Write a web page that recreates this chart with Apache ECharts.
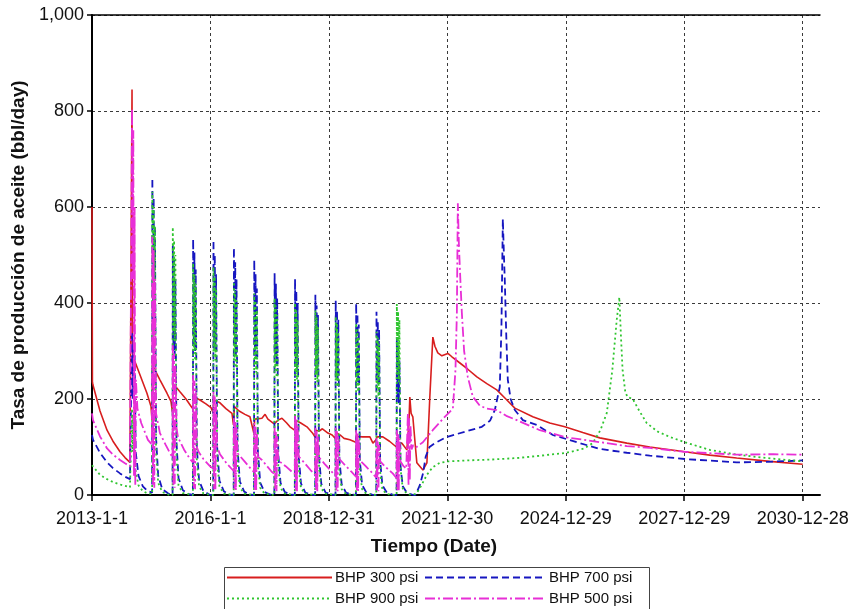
<!DOCTYPE html>
<html>
<head>
<meta charset="utf-8">
<script src="https://cdn.jsdelivr.net/npm/echarts@6/dist/echarts.min.js"></script>
<style>
  html, body { margin: 0; padding: 0; background: #fff; }
  #chart { width: 854px; height: 609px; }
</style>
</head>
<body>
<div id="chart"></div>
<script>
// x values are days elapsed since 2013-01-01, y values are oil rate in bbl/day
const tickLabels = ['2013-1-1', '2016-1-1', '2018-12-31', '2021-12-30', '2024-12-29', '2027-12-29', '2030-12-28'];
const tickStepDays = 1095;
const seriesNames = ['BHP 300 psi', 'BHP 700 psi', 'BHP 900 psi', 'BHP 500 psi'];

const bhp300 = [
  [0,600],[4,235],[9,229],[74,175],[139,135],[194,112],[259,90],[305,78],[351,68],[368,65],
  [370,845],[374,300],[380,288],[444,250],[508,212],[545,185],[555,156],
  [560,270],[628,240],[693,212],[730,195],[744,172],
  [751,232],[813,215],[869,200],[915,185],[931,180],
  [939,205],[998,198],[1053,190],[1100,182],[1119,172],
  [1127,198],[1183,192],[1238,180],[1294,170],[1308,146],
  [1316,184],[1360,175],[1414,168],[1460,163],[1496,129],
  [1504,158],[1571,160],[1600,168],[1626,158],[1684,148],
  [1692,152],[1720,156],[1756,160],[1800,150],[1830,142],[1873,135],
  [1881,156],[1930,150],[1987,142],[2042,128],[2061,121],
  [2069,135],[2100,133],[2130,138],[2181,129],[2220,125],[2249,118],
  [2257,130],[2300,124],[2330,118],[2384,115],[2438,110],
  [2446,122],[2504,121],[2569,121],[2597,108],[2626,115],
  [2634,121],[2689,121],[2750,112],[2814,100],
  [2822,108],[2865,108],[2911,94],[2930,150],[2938,204],[2950,170],[2966,163],[2990,100],
  [3003,67],[3059,52],[3096,67],[3123,204],[3151,329],[3170,310],[3197,296],[3234,290],
  [3290,295],[3327,288],[3401,275],[3474,262],[3558,246],[3650,232],[3742,219],[3826,200],
  [3909,181],[4075,163],[4232,150],[4371,142],[4537,130],[4694,119],[4944,108],[5156,100],
  [5480,90],[5711,83],[5960,77],[6265,70],[6570,64]
];

const bhp700 = [
  [0,125],[9,115],[74,88],[139,68],[194,56],[259,45],[305,38],[351,33],[368,31],
  [370,340],[376,200],[382,320],[388,190],[394,290],[404,90],[430,40],[470,18],[515,8],[556,5],
  [558,660],[564,400],[570,620],[576,360],[582,560],[592,120],[612,40],[650,12],[705,3],[745,1],
  [747,520],[753,300],[759,490],[765,290],[771,450],[781,110],[800,35],[840,10],[895,2],[933,0],
  [935,533],[941,320],[947,505],[953,300],[959,470],[969,100],[990,30],[1030,8],[1085,1],[1121,0],
  [1123,531],[1129,320],[1135,500],[1141,300],[1147,460],[1157,100],[1178,30],[1218,8],[1270,1],[1310,0],
  [1312,515],[1318,310],[1324,485],[1330,290],[1336,450],[1346,95],[1367,28],[1407,7],[1460,1],[1498,0],
  [1500,490],[1506,300],[1512,460],[1518,280],[1524,430],[1534,90],[1555,26],[1595,6],[1648,1],[1686,0],
  [1688,462],[1694,290],[1700,440],[1706,270],[1712,410],[1722,85],[1743,25],[1783,6],[1836,1],[1875,0],
  [1877,450],[1883,280],[1889,425],[1895,260],[1901,400],[1911,80],[1932,24],[1972,5],[2025,1],[2063,0],
  [2065,417],[2071,270],[2077,395],[2083,250],[2089,375],[2099,78],[2120,23],[2160,5],[2213,1],[2251,0],
  [2253,405],[2259,260],[2265,385],[2271,240],[2277,365],[2287,75],[2308,22],[2348,5],[2401,1],[2440,0],
  [2442,399],[2448,250],[2454,378],[2460,235],[2466,355],[2476,72],[2497,21],[2537,5],[2590,1],[2628,0],
  [2630,382],[2636,250],[2642,362],[2648,230],[2654,345],[2664,70],[2685,20],[2725,5],[2778,1],[2816,0],
  [2818,330],[2824,200],[2830,310],[2836,190],[2842,280],[2852,60],[2873,18],[2913,4],[2960,1],
  [2990,0],[3030,20],[3060,45],[3085,80],[3120,100],[3170,108],[3280,121],[3450,132],
  [3604,142],[3680,155],[3724,177],[3770,225],[3785,350],[3798,575],[3808,500],[3816,448],
  [3830,330],[3844,240],[3870,200],[3909,177],[3983,156],[4112,146],[4260,125],[4482,110],
  [4694,96],[4944,88],[5156,82],[5480,75],[5960,68],[6237,69],[6570,72]
];

const bhp900 = [
  [0,62],[9,58],[74,42],[139,33],[194,27],[259,22],[305,19],[351,16],[368,15],
  [370,180],[376,90],[382,165],[388,85],[394,140],[404,50],[430,20],[470,8],[515,3],[556,2],
  [558,632],[564,380],[570,600],[576,350],[582,560],[592,90],[612,25],[650,6],[705,1],[745,0],
  [747,558],[753,340],[759,530],[765,320],[771,500],[781,80],[800,20],[840,4],[933,0],
  [935,483],[941,300],[947,460],[953,280],[959,440],[969,70],[990,18],[1030,3],[1121,0],
  [1123,475],[1129,300],[1135,455],[1141,280],[1147,430],[1157,70],[1178,18],[1218,3],[1310,0],
  [1312,444],[1318,280],[1324,425],[1330,265],[1336,405],[1346,65],[1367,16],[1407,3],[1498,0],
  [1500,420],[1506,270],[1512,405],[1518,255],[1524,385],[1534,60],[1555,15],[1595,3],[1686,0],
  [1688,410],[1694,260],[1700,395],[1706,245],[1712,375],[1722,58],[1743,14],[1783,3],[1875,0],
  [1877,400],[1883,255],[1889,385],[1895,240],[1901,365],[1911,56],[1932,14],[1972,3],[2063,0],
  [2065,385],[2071,250],[2077,370],[2083,235],[2089,350],[2099,55],[2120,13],[2160,3],[2251,0],
  [2253,372],[2259,240],[2265,358],[2271,225],[2277,340],[2287,52],[2308,12],[2348,2],[2440,0],
  [2442,358],[2448,230],[2454,345],[2460,215],[2466,330],[2476,50],[2497,12],[2537,2],[2628,0],
  [2630,340],[2636,220],[2642,328],[2648,205],[2654,315],[2664,48],[2685,11],[2725,2],[2816,0],
  [2818,398],[2824,250],[2830,382],[2836,235],[2842,365],[2852,55],[2873,13],[2913,2],[2960,0],
  [3000,3],[3040,18],[3096,42],[3150,58],[3216,67],[3290,70],[3465,72],[3700,74],
  [3927,77],[4150,82],[4389,88],[4550,97],[4629,108],[4700,135],[4759,171],[4810,260],
  [4851,365],[4875,412],[4890,330],[4905,260],[4930,215],[4950,204],[4999,200],[5060,175],
  [5128,150],[5230,132],[5341,121],[5480,110],[5711,94],[5960,84],[6237,77],[6570,70]
];

const bhp500 = [
  [0,170],[9,156],[74,122],[139,97],[194,84],[259,73],[305,66],[351,60],[368,58],
  [370,805],[376,450],[382,760],[388,40],[394,600],[400,20],[406,240],[420,180],[455,150],[517,115],[554,105],
  [558,538],[564,20],[570,510],[576,15],[582,450],[592,170],[605,155],[628,129],[680,105],[721,87],[745,78],
  [747,312],[753,20],[759,295],[765,15],[771,270],[781,140],[795,120],[850,95],[906,75],[933,68],
  [935,250],[941,15],[947,238],[953,12],[959,220],[969,100],[985,90],[1030,75],[1090,60],[1121,55],
  [1123,215],[1129,12],[1135,205],[1141,10],[1147,190],[1157,100],[1183,85],[1247,65],[1310,50],
  [1312,160],[1318,12],[1324,152],[1330,10],[1336,140],[1346,87],[1410,70],[1478,52],[1498,48],
  [1500,150],[1506,10],[1512,142],[1518,8],[1524,130],[1534,80],[1571,73],[1663,48],[1686,44],
  [1688,140],[1694,10],[1700,133],[1706,8],[1712,122],[1722,72],[1790,60],[1850,48],[1875,44],
  [1877,165],[1883,10],[1889,157],[1895,8],[1901,145],[1911,80],[1960,68],[2020,52],[2063,42],
  [2065,140],[2071,10],[2077,133],[2083,8],[2089,122],[2099,78],[2150,65],[2210,50],[2251,40],
  [2253,140],[2259,10],[2265,133],[2271,8],[2277,122],[2287,75],[2340,62],[2400,48],[2440,38],
  [2442,135],[2448,10],[2454,128],[2460,8],[2466,118],[2476,72],[2530,60],[2590,46],[2628,36],
  [2630,118],[2636,10],[2642,112],[2648,8],[2654,104],[2664,70],[2715,58],[2780,45],[2816,35],
  [2818,135],[2824,10],[2830,128],[2836,8],[2842,118],[2852,70],[2880,60],[2905,55],
  [2920,170],[2926,20],[2932,160],[2938,30],[2944,145],[2954,95],[2970,104],[3000,100],[3059,110],[3150,135],
  [3250,160],[3336,180],[3360,260],[3373,379],[3382,608],[3392,520],[3405,450],[3419,380],
  [3440,300],[3474,246],[3520,205],[3585,186],[3650,180],[3742,177],[3830,165],[3927,156],
  [4140,135],[4389,120],[4759,108],[4944,102],[5156,98],[5480,90],[5960,84],[6300,85],[6570,84]
];

const X_MAX = 6730;
const tickValues = tickLabels.map((_, i) => i * tickStepDays);
const FONT = "'Liberation Sans', Arial, sans-serif";
const COLORS = ['#d81e1e', '#1616c0', '#2fc52f', '#e82fd6'];

const chart = echarts.init(document.getElementById('chart'), null, { renderer: 'canvas' });

// vertical grid lines: one per labelled tick, the extent end stays invisible
const vGridColors = tickValues.map(() => '#3a3a3a').concat(['rgba(0,0,0,0)']);

function lineSeries(name, data, color, type, width) {
  return {
    name, type: 'line', data, symbol: 'none', showSymbol: false,
    lineStyle: { color, width, type },
    itemStyle: { color },
    animation: false
  };
}

const legendCommon = {
  orient: 'vertical', top: 570, itemHeight: 14, itemGap: 6, padding: 0,
  itemStyle: { opacity: 0 },
  textStyle: { fontSize: 15, color: '#111', fontFamily: FONT, padding: [0, 0, 0, -2] }
};

chart.setOption({
  animation: false,
  backgroundColor: '#ffffff',
  textStyle: { fontFamily: FONT },
  grid: { left: 92, top: 15, right: 34, bottom: 114, containLabel: false },
  legend: [
    Object.assign({ data: [seriesNames[0], seriesNames[2]], left: 226, itemWidth: 105 }, legendCommon),
    Object.assign({ data: [seriesNames[1], seriesNames[3]], left: 424, itemWidth: 121 }, legendCommon)
  ],
  graphic: [{
    type: 'rect', left: 222, top: 565, silent: true,
    shape: { width: 425, height: 60 },
    style: { fill: 'none', stroke: '#444', lineWidth: 1 }
  }],
  xAxis: [{
    type: 'value', min: 0, max: X_MAX, interval: tickStepDays,
    name: 'Tiempo (Date)', nameLocation: 'middle', nameGap: 42,
    nameTextStyle: { fontSize: 19, fontWeight: 'bold', color: '#111', fontFamily: FONT, padding: [0, 44, 0, 0] },
    axisLine: { show: true, onZero: false, lineStyle: { color: '#000', width: 2 } },
    axisTick: { show: true, length: 6, inside: false, customValues: tickValues, lineStyle: { color: '#000', width: 1.5 } },
    axisLabel: {
      fontSize: 18, color: '#111', margin: 15, fontFamily: FONT,
      customValues: tickValues,
      formatter: v => {
        const i = Math.round(v / tickStepDays);
        return Math.abs(v - i * tickStepDays) < 1e-6 && tickLabels[i] ? tickLabels[i] : '';
      }
    },
    splitLine: { show: true, lineStyle: { color: vGridColors, type: [3, 3], width: 1 } }
  }, {
    type: 'value', min: 0, max: X_MAX, position: 'top',
    axisLine: { show: true, onZero: false, lineStyle: { color: '#000', width: 1.5 } },
    axisTick: { show: false }, axisLabel: { show: false }, splitLine: { show: false }
  }],
  yAxis: {
    type: 'value', min: 0, max: 1000, interval: 200,
    name: 'Tasa de producción de aceite (bbl/day)', nameLocation: 'middle', nameGap: 62, nameRotate: 90,
    nameTextStyle: { fontSize: 19, fontWeight: 'bold', color: '#111', fontFamily: FONT },
    axisLine: { show: true, lineStyle: { color: '#000', width: 2 } },
    axisTick: { show: true, length: 5, inside: false, lineStyle: { color: '#000', width: 1.5 } },
    axisLabel: { fontSize: 18, color: '#111', margin: 8, fontFamily: FONT, formatter: v => v.toLocaleString('en-US') },
    splitLine: { show: true, lineStyle: { color: '#3a3a3a', type: [3, 3], width: 1 } }
  },
  series: [
    lineSeries(seriesNames[0], bhp300, COLORS[0], 'solid', 1.6),
    lineSeries(seriesNames[1], bhp700, COLORS[1], [7, 4], 1.8),
    lineSeries(seriesNames[2], bhp900, COLORS[2], [2, 3], 1.8),
    lineSeries(seriesNames[3], bhp500, COLORS[3], [10, 3, 2, 3], 1.8)
  ]
});
</script>
</body>
</html>
